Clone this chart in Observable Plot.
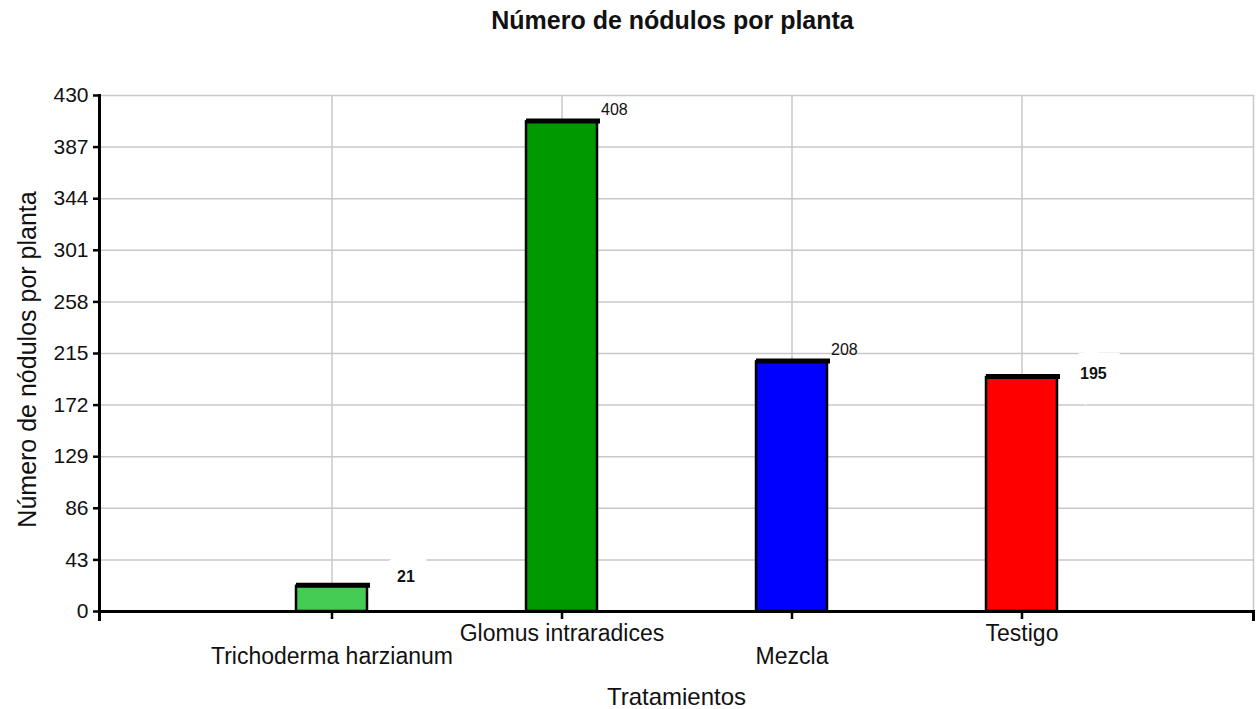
<!DOCTYPE html>
<html>
<head>
<meta charset="utf-8">
<script src="https://cdn.jsdelivr.net/npm/d3@7"></script>
<script src="https://cdn.jsdelivr.net/npm/@observablehq/plot@0.6"></script>
<style>
  html, body { margin: 0; padding: 0; background: white; }
  #title {
    width: 1257px; height: 43px; padding-top: 7px; margin: 0;
    box-sizing: content-box;
    font-family: "Liberation Sans", Arial, sans-serif; font-weight: bold;
    font-size: 25px; line-height: 27px; color: #111;
    text-align: center; text-indent: 88px; white-space: nowrap;
  }
</style>
</head>
<body>
<div id="title">Número de nódulos por planta</div>
<div id="chart"></div>
<script>
const categories = ["Trichoderma harzianum", "Glomus intraradices", "Mezcla", "Testigo"];
const values = [21, 408, 208, 195];
const colors = ["#44cc55", "#009900", "#0000ff", "#ff0000"];
const yTicks = [0, 43, 86, 129, 172, 215, 258, 301, 344, 387, 430];
const yLabel = "Número de nódulos por planta";
const xLabel = "Tratamientos";

const data = categories.map((c, i) => ({cat: c, value: values[i], color: colors[i]}));

const W = 1257, H = 659, mT = 45, mB = 98, mL = 99, mR = 4;
const plotH = H - mT - mB;
const boxed = new Set(["Trichoderma harzianum", "Testigo"]);

const chart = Plot.plot({
  width: W, height: H,
  marginTop: mT, marginBottom: mB, marginLeft: mL, marginRight: mR,
  style: {fontFamily: "'Liberation Sans', Arial, sans-serif", color: "#111", background: "white", overflow: "visible"},
  x: {type: "band", domain: categories, paddingInner: 0.692, paddingOuter: 0.846},
  y: {domain: [0, 430]},
  color: {type: "identity"},
  marks: [
    Plot.gridY({ticks: yTicks, stroke: "#c8c8c8", strokeOpacity: 1, strokeWidth: 1.5}),
    Plot.gridX({ticks: categories, stroke: "#c8c8c8", strokeOpacity: 1, strokeWidth: 1.5}),
    Plot.frame({anchor: "right", stroke: "#c8c8c8", strokeWidth: 1.5}),
    Plot.barY(data, {x: "cat", y: "value", fill: "color", stroke: "black", strokeWidth: 2.5}),
    Plot.tickY(data, {x: "cat", y: "value", stroke: "black", strokeWidth: 5, dy: -1, insetRight: -3}),
    Plot.text(data.filter(d => !boxed.has(d.cat)), {
      x: "cat", y: "value", text: d => String(d.value),
      textAnchor: "start", dx: 39, dy: -12, fontSize: 16, fill: "#111"
    }),
    Plot.text(data.filter(d => d.cat === "Trichoderma harzianum"), {
      x: "cat", y: "value", text: d => String(d.value),
      textAnchor: "start", dx: 65, dy: -9, fontSize: 16, fontWeight: "bold", fill: "#111",
      stroke: "white", strokeWidth: 28, strokeLinejoin: "miter"
    }),
    Plot.text(data.filter(d => d.cat === "Testigo"), {
      x: "cat", y: "value", text: d => String(d.value),
      textAnchor: "start", dx: 58, dy: -4, fontSize: 16, fontWeight: "bold", fill: "#111",
      stroke: "white", strokeWidth: 28, strokeLinejoin: "miter"
    }),
    Plot.ruleY([0], {stroke: "black", strokeWidth: 3}),
    Plot.frame({anchor: "left", stroke: "black", strokeWidth: 3, insetBottom: -8}),
    Plot.frame({anchor: "right", stroke: "black", strokeWidth: 3, insetTop: plotH, insetBottom: -8}),
    Plot.axisY({ticks: yTicks, tickSize: 6, tickPadding: 5, fontSize: 21, label: null, stroke: "black", strokeWidth: 2.5}),
    Plot.axisX({ticks: [categories[0], categories[2]], tickSize: 8, tickPadding: 28, fontSize: 23, label: null, stroke: "black", strokeWidth: 2.5}),
    Plot.axisX({ticks: [categories[1], categories[3]], tickSize: 8, tickPadding: 5, fontSize: 23, label: null, stroke: "black", strokeWidth: 2.5}),
    Plot.text([xLabel], {frameAnchor: "bottom", dy: 86, fontSize: 24, fill: "#111", lineAnchor: "middle"}),
    Plot.text([yLabel], {frameAnchor: "left", textAnchor: "middle", rotate: -90, dx: -72, dy: 6, fontSize: 25, fill: "#111", lineAnchor: "middle"})
  ]
});
document.getElementById("chart").appendChild(chart);
</script>
</body>
</html>
